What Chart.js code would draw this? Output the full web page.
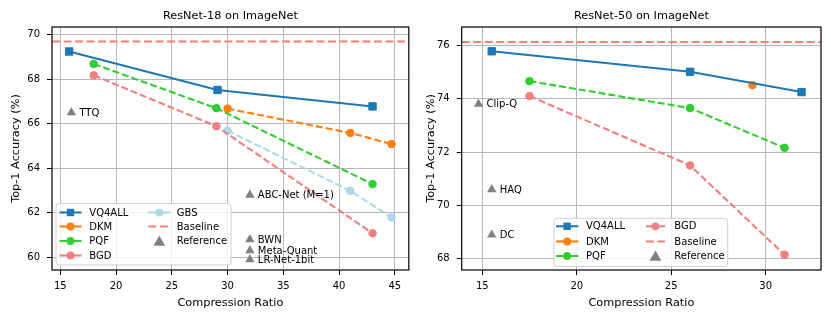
<!DOCTYPE html>
<html><head><meta charset="utf-8">
<script src="https://cdn.jsdelivr.net/npm/chart.js@4.4.0/dist/chart.umd.min.js"></script>
<style>
html,body{margin:0;padding:0;background:#fff;width:831px;height:319px;overflow:hidden;}
canvas{position:absolute;top:0;}
#c1{left:0;} #c2{left:415px;}
</style>
</head><body>
<canvas id="c1" width="415" height="319"></canvas>
<canvas id="c2" width="416" height="319"></canvas>
<script>
// ---------- ResNet-18 data ----------
const r18_x_vq4all = [15.8, 29.1, 43.0];
const r18_y_vq4all = [69.25, 67.52, 66.78];
const r18_x_dkm = [30.0, 41.0, 44.7];
const r18_y_dkm = [66.68, 65.59, 65.09];
const r18_x_pqf = [18.0, 29.0, 43.0];
const r18_y_pqf = [68.69, 66.70, 63.29];
const r18_x_bgd = [18.0, 29.0, 43.0];
const r18_y_bgd = [68.18, 65.89, 61.08];
const r18_x_gbs = [30.0, 41.0, 44.7];
const r18_y_gbs = [65.69, 62.99, 61.79];
const r18_baseline = 69.7;
const r18_ref_names = ['TTQ', 'ABC-Net (M=1)', 'BWN', 'Meta-Quant', 'LR-Net-1bit'];
const r18_ref_x = [16.0, 32.0, 32.0, 32.0, 32.0];
const r18_ref_y = [66.5, 62.8, 60.8, 60.3, 59.9];
const r18_xticks = [15, 20, 25, 30, 35, 40, 45];
const r18_yticks = [60, 62, 64, 66, 68, 70];
const r18_xrange = [14.26, 46.25];
const r18_yrange = [59.43, 70.35];

// ---------- ResNet-50 data ----------
const r50_x_vq4all = [15.5, 26.0, 31.9];
const r50_y_vq4all = [75.78, 75.01, 74.25];
const r50_x_dkm = [29.3];
const r50_y_dkm = [74.51];
const r50_x_pqf = [17.5, 26.0, 31.0];
const r50_y_pqf = [74.66, 73.65, 72.16];
const r50_x_bgd = [17.5, 26.0, 31.0];
const r50_y_bgd = [74.1, 71.5, 68.15];
const r50_baseline = 76.13;
const r50_ref_names = ['Clip-Q', 'HAQ', 'DC'];
const r50_ref_x = [14.8, 15.5, 15.5];
const r50_ref_y = [73.8, 70.6, 68.9];
const r50_xticks = [15, 20, 25, 30];
const r50_yticks = [68, 70, 72, 74, 76];
const r50_xrange = [13.91, 32.93];
const r50_yrange = [67.58, 76.69];

const FONT = "'DejaVu Sans', sans-serif";
const COL = {vq:'#1f77b4', dkm:'#ff7f0e', pqf:'#32cd32', bgd:'#f08080', gbs:'#add8e6', base:'#fa8072', ref:'#808080'};
const DASH = [7, 3];

function pts(xs, ys){ return xs.map((x,i)=>({x:x, y:ys[i]})); }

function lineDs(label, xs, ys, color, style, dashed){
  return {label, data: pts(xs, ys), showLine:true, borderColor:color, backgroundColor:color,
    borderWidth:2.1, borderDash: dashed ? DASH : [], pointStyle:style,
    pointRadius: style==='rect' ? 5.2 : 3.8, pointBorderWidth:1, pointBorderColor:color,
    pointBackgroundColor:color, pointHoverRadius:0};
}

function makeChart(id, o){
  const W = o.w, H = 319;
  const area = o.area;
  const datasets = [];
  datasets.push({label:'Baseline', data: pts(o.xrange, [o.baseline, o.baseline]), showLine:true,
    borderColor:COL.base, borderWidth:2.1, borderDash:[8,3.5], pointRadius:0, order:10});
  o.series.forEach(s=>datasets.push(lineDs(s.label, s.x, s.y, s.color, s.style, s.dashed)));
  datasets.push({label:'Reference', data: pts(o.refx, o.refy), showLine:false, pointStyle:'triangle',
    pointRadius:5.4, pointBackgroundColor:COL.ref, pointBorderColor:COL.ref, pointBorderWidth:0});

  const deco = {
    id:'deco'+id,
    afterDatasetsDraw(chart){
      const ctx = chart.ctx, xs = chart.scales.x, ys = chart.scales.y;
      ctx.save();
      ctx.font = '10px ' + FONT; ctx.fillStyle = '#000'; ctx.textBaseline='middle'; ctx.textAlign='left';
      o.refnames.forEach((n,i)=>{
        ctx.fillText(n, xs.getPixelForValue(o.refx[i]) + 8, ys.getPixelForValue(o.refy[i]) + 0.5);
      });
      ctx.restore();
    },
    afterDraw(chart){
      const ctx = chart.ctx, ca = chart.chartArea;
      ctx.save();
      ctx.strokeStyle = '#000'; ctx.lineWidth = 1.2;
      ctx.strokeRect(ca.left, ca.top, ca.right-ca.left, ca.bottom-ca.top);
      ctx.font = '11.3px ' + FONT; ctx.fillStyle='#000'; ctx.textAlign='center'; ctx.textBaseline='middle';
      ctx.fillText(o.title, (ca.left+ca.right)/2, 16);
      const L = o.legend;
      ctx.beginPath();
      const r = 3, bx=L.box[0], by=L.box[1], bw=L.box[2]-L.box[0], bh=L.box[3]-L.box[1];
      ctx.moveTo(bx+r,by); ctx.arcTo(bx+bw,by,bx+bw,by+bh,r); ctx.arcTo(bx+bw,by+bh,bx,by+bh,r);
      ctx.arcTo(bx,by+bh,bx,by,r); ctx.arcTo(bx,by,bx+bw,by,r); ctx.closePath();
      ctx.fillStyle='rgba(255,255,255,0.8)'; ctx.fill();
      ctx.strokeStyle='#d0d0d0'; ctx.lineWidth=1; ctx.stroke();
      ctx.font = '10px ' + FONT; ctx.textAlign='left'; ctx.textBaseline='middle';
      L.items.forEach(it=>{
        const [hx0, hx1, tx] = L.cols[it.col];
        const y = L.rows[it.row];
        const mx = (hx0+hx1)/2;
        if (it.kind === 'line' || it.kind === 'dash'){
          ctx.beginPath(); ctx.strokeStyle = it.color; ctx.lineWidth = 2.1;
          ctx.setLineDash(it.kind==='dash' ? [8,3.5] : []);
          ctx.moveTo(hx0, y); ctx.lineTo(hx1, y); ctx.stroke(); ctx.setLineDash([]);
        }
        ctx.fillStyle = it.color;
        if (it.marker === 'rect'){ ctx.fillRect(mx-3.7, y-3.7, 7.4, 7.4); }
        else if (it.marker === 'circle'){ ctx.beginPath(); ctx.arc(mx, y, 3.9, 0, Math.PI*2); ctx.fill(); }
        else if (it.marker === 'triangle'){
          ctx.beginPath(); ctx.moveTo(mx, y-5.5); ctx.lineTo(mx+5.8, y+4.8); ctx.lineTo(mx-5.8, y+4.8); ctx.closePath(); ctx.fill();
        }
        ctx.fillStyle = '#000';
        ctx.fillText(it.label, tx, y+0.5);
      });
      ctx.restore();
    }
  };

  return new Chart(document.getElementById(id), {
    type:'scatter',
    data:{datasets},
    options:{
      responsive:false, animation:false, devicePixelRatio:1,
      layout:{padding:{top:area.top, right:W-area.right, bottom:0, left:0}},
      plugins:{legend:{display:false}, tooltip:{enabled:false}, title:{display:false}},
      scales:{
        x:{type:'linear', min:o.xrange[0], max:o.xrange[1],
          afterBuildTicks(s){ s.ticks = o.xticks.map(v=>({value:v})); },
          afterFit(s){ s.height = H - area.bottom; },
          grid:{color:'#b8b8b8', lineWidth:1, tickColor:'#000', tickLength:5, tickWidth:1},
          border:{display:false},
          ticks:{color:'#000', font:{family:FONT, size:10}, padding:5, maxRotation:0, autoSkip:false,
            callback:(v)=>String(v)},
          title:{display:true, text:'Compression Ratio', color:'#000', font:{family:FONT, size:11.3}, padding:{top:0,bottom:9.5}}
        },
        y:{type:'linear', min:o.yrange[0], max:o.yrange[1],
          afterBuildTicks(s){ s.ticks = o.yticks.map(v=>({value:v})); },
          afterFit(s){ s.width = area.left; },
          grid:{color:'#b8b8b8', lineWidth:1, tickColor:'#000', tickLength:5, tickWidth:1},
          border:{display:false},
          ticks:{color:'#000', font:{family:FONT, size:10}, padding:7, autoSkip:false, callback:(v)=>String(v)},
          title:{display:true, text:'Top-1 Accuracy (%)', color:'#000', font:{family:FONT, size:11.3}, padding:{top:9,bottom:0}}
        }
      }
    },
    plugins:[deco]
  });
}

makeChart('c1', {
  w:415, area:{left:52, right:410, top:27, bottom:270},
  title:'ResNet-18 on ImageNet',
  xrange:r18_xrange, yrange:r18_yrange, xticks:r18_xticks, yticks:r18_yticks, baseline:r18_baseline,
  series:[
    {label:'VQ4ALL', x:r18_x_vq4all, y:r18_y_vq4all, color:COL.vq, style:'rect', dashed:false},
    {label:'DKM', x:r18_x_dkm, y:r18_y_dkm, color:COL.dkm, style:'circle', dashed:true},
    {label:'PQF', x:r18_x_pqf, y:r18_y_pqf, color:COL.pqf, style:'circle', dashed:true},
    {label:'BGD', x:r18_x_bgd, y:r18_y_bgd, color:COL.bgd, style:'circle', dashed:true},
    {label:'GBS', x:r18_x_gbs, y:r18_y_gbs, color:COL.gbs, style:'circle', dashed:true}
  ],
  refnames:r18_ref_names, refx:r18_ref_x, refy:r18_ref_y,
  legend:{box:[56, 203.5, 231, 265], rows:[212.5, 226.5, 241, 255.5],
    cols:[[59.5, 81.5, 89.3], [148.3, 170.3, 176.7]],
    items:[
      {label:'VQ4ALL', col:0, row:0, kind:'line', marker:'rect', color:COL.vq},
      {label:'DKM', col:0, row:1, kind:'line', marker:'circle', color:COL.dkm},
      {label:'PQF', col:0, row:2, kind:'line', marker:'circle', color:COL.pqf},
      {label:'BGD', col:0, row:3, kind:'line', marker:'circle', color:COL.bgd},
      {label:'GBS', col:1, row:0, kind:'line', marker:'circle', color:COL.gbs},
      {label:'Baseline', col:1, row:1, kind:'dash', marker:null, color:COL.base},
      {label:'Reference', col:1, row:2, kind:'none', marker:'triangle', color:COL.ref}
    ]}
});

makeChart('c2', {
  w:416, area:{left:46.7, right:406, top:27, bottom:270},
  title:'ResNet-50 on ImageNet',
  xrange:r50_xrange, yrange:r50_yrange, xticks:r50_xticks, yticks:r50_yticks, baseline:r50_baseline,
  series:[
    {label:'VQ4ALL', x:r50_x_vq4all, y:r50_y_vq4all, color:COL.vq, style:'rect', dashed:false},
    {label:'DKM', x:r50_x_dkm, y:r50_y_dkm, color:COL.dkm, style:'circle', dashed:true},
    {label:'PQF', x:r50_x_pqf, y:r50_y_pqf, color:COL.pqf, style:'circle', dashed:true},
    {label:'BGD', x:r50_x_bgd, y:r50_y_bgd, color:COL.bgd, style:'circle', dashed:true}
  ],
  refnames:r50_ref_names, refx:r50_ref_x, refy:r50_ref_y,
  legend:{box:[139, 218.3, 312.7, 266.5], rows:[226.3, 241.5, 256],
    cols:[[141, 163.3, 171], [231, 250, 259.3]],
    items:[
      {label:'VQ4ALL', col:0, row:0, kind:'line', marker:'rect', color:COL.vq},
      {label:'DKM', col:0, row:1, kind:'line', marker:'circle', color:COL.dkm},
      {label:'PQF', col:0, row:2, kind:'line', marker:'circle', color:COL.pqf},
      {label:'BGD', col:1, row:0, kind:'line', marker:'circle', color:COL.bgd},
      {label:'Baseline', col:1, row:1, kind:'dash', marker:null, color:COL.base},
      {label:'Reference', col:1, row:2, kind:'none', marker:'triangle', color:COL.ref}
    ]}
});
</script>
</body></html>
